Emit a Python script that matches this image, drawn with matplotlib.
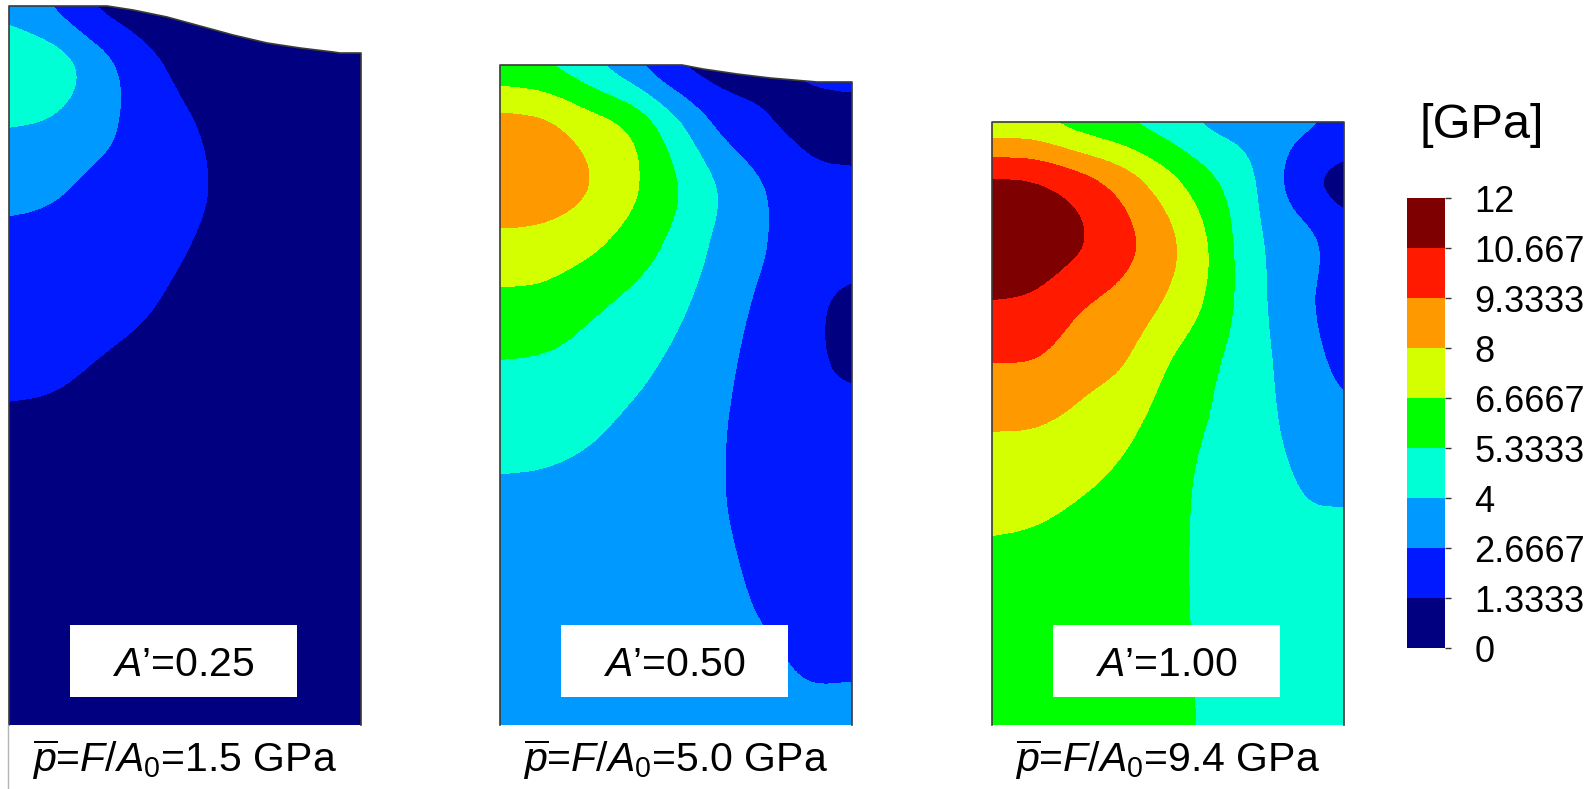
import numpy as np
import matplotlib
matplotlib.use("Agg")
import matplotlib.pyplot as plt
from matplotlib.colors import ListedColormap, BoundaryNorm
from matplotlib.patches import Polygon, Rectangle
from matplotlib.cm import ScalarMappable
from matplotlib.lines import Line2D

plt.rcParams['font.family'] = ['Liberation Sans', 'DejaVu Sans']
plt.rcParams['mathtext.fontset'] = 'custom'
plt.rcParams['mathtext.rm'] = 'Liberation Sans'
plt.rcParams['mathtext.it'] = 'Liberation Sans:italic'
plt.rcParams['mathtext.bf'] = 'Liberation Sans:bold'

# ---------------- data ----------------
LEVELS = np.linspace(0, 12, 10)
LEVEL_LABELS = ["0", "1.3333", "2.6667", "4", "5.3333", "6.6667", "8", "9.3333", "10.667", "12"]
BAND_COLORS = ["#000080", "#0019FF", "#0099FF", "#00FFD4", "#00FF00",
               "#D4FF00", "#FF9900", "#FF1A00", "#7F0000"]

A_LABELS = ["0.25", "0.50", "1.00"]
P_LABELS = ["1.5", "5.0", "9.4"]

# radial sample positions (px across the section, axis of symmetry at 0), step 44
COLS = [0, 44, 88, 132, 176, 220, 264, 308, 352]
ROW_STEP = 60  # depth sample spacing (px)

# panel 1 (A'=0.25): stress [GPa] at depths 0, 60, ..., 720
S1 = [
    [3.6, 2.6, 1.2, 0.6, 0.4, 0.3, 0.2, 0.15, 0.1],
    [5.0, 4.8, 3.4, 1.9, 0.95, 0.6, 0.4, 0.3, 0.2],
    [4.05, 3.85, 3.05, 2.3, 1.5, 1.0, 0.7, 0.5, 0.4],
    [3.0, 2.85, 2.4, 2.2, 1.6, 1.15, 0.85, 0.6, 0.5],
    [2.4, 2.3, 2.0, 1.8, 1.38, 1.05, 0.8, 0.6, 0.5],
    [1.95, 1.9, 1.65, 1.45, 1.1, 0.85, 0.7, 0.55, 0.5],
    [1.55, 1.5, 1.3, 1.1, 0.85, 0.7, 0.6, 0.5, 0.45],
    [1.2, 1.15, 1.0, 0.9, 0.7, 0.6, 0.5, 0.45, 0.4],
    [0.95, 0.9, 0.85, 0.75, 0.6, 0.5, 0.45, 0.4, 0.4],
    [0.8, 0.78, 0.72, 0.65, 0.55, 0.48, 0.42, 0.4, 0.38],
    [0.7, 0.68, 0.64, 0.58, 0.5, 0.45, 0.4, 0.38, 0.36],
    [0.62, 0.6, 0.57, 0.52, 0.47, 0.42, 0.38, 0.36, 0.35],
    [0.55, 0.54, 0.52, 0.48, 0.44, 0.4, 0.36, 0.34, 0.33],
]
SURF1_X = [0, 98, 124, 158, 191, 224, 258, 291, 324, 331, 352]
SURF1_D = [0, 0, 4, 11, 20, 29, 37, 42, 46, 47, 47]

# panel 2 (A'=0.50): depths 0, 60, ..., 660
S2 = [
    [5.7, 5.4, 4.4, 3.0, 1.4, 0.7, 1.0, 1.5, 1.75],
    [8.6, 8.35, 7.4, 6.5, 4.4, 2.4, 1.45, 1.0, 0.9],
    [9.0, 8.8, 8.15, 7.0, 5.5, 3.95, 2.7, 1.7, 1.55],
    [7.6, 7.5, 7.0, 6.1, 5.0, 3.7, 2.75, 1.95, 1.8],
    [6.3, 6.2, 5.6, 5.0, 4.3, 3.3, 2.4, 1.6, 1.05],
    [5.25, 5.15, 4.85, 4.35, 3.75, 3.0, 2.15, 1.5, 1.2],
    [4.5, 4.45, 4.2, 3.8, 3.4, 2.8, 2.05, 1.6, 1.6],
    [3.9, 3.85, 3.7, 3.45, 3.2, 2.75, 2.1, 1.75, 1.7],
    [3.5, 3.45, 3.35, 3.2, 3.05, 2.8, 2.4, 1.95, 1.9],
    [3.3, 3.25, 3.15, 3.05, 2.95, 2.85, 2.6, 2.25, 2.2],
    [3.15, 3.1, 3.05, 2.95, 2.9, 2.85, 2.8, 2.6, 2.6],
    [3.1, 3.05, 3.0, 2.9, 2.85, 2.8, 2.85, 2.8, 2.8],
]
SURF2_X = [0, 182, 203, 237, 270, 317, 352]
SURF2_D = [0, 0, 4, 9, 13, 17, 17]

# panel 3 (A'=1.00): depths 0, 60, ..., 600
S3 = [
    [7.0, 6.9, 6.0, 5.4, 4.6, 3.7, 3.5, 3.0, 2.4],
    [11.0, 10.8, 10.0, 8.8, 7.2, 5.6, 4.05, 1.8, 0.8],
    [11.8, 11.6, 10.9, 9.8, 8.45, 6.55, 4.2, 3.3, 2.0],
    [10.65, 10.45, 9.5, 8.9, 7.9, 6.4, 4.35, 3.1, 1.9],
    [9.35, 9.3, 8.6, 8.1, 6.7, 5.55, 4.45, 3.3, 2.35],
    [8.15, 8.1, 7.7, 7.05, 6.1, 5.25, 4.5, 3.55, 2.95],
    [7.3, 7.2, 6.85, 6.4, 5.85, 4.95, 4.6, 3.95, 3.8],
    [6.6, 6.5, 6.25, 6.0, 5.7, 4.95, 4.65, 4.2, 4.2],
    [6.2, 6.1, 5.9, 5.75, 5.6, 5.05, 4.7, 4.35, 4.3],
    [5.95, 5.9, 5.75, 5.65, 5.55, 5.15, 4.7, 4.45, 4.4],
    [5.8, 5.75, 5.7, 5.65, 5.55, 5.2, 4.75, 4.5, 4.45],
]
SURF3_X = [0, 352]
SURF3_D = [0, 0]

# ---------------- layout (figure pixels) ----------------
FW, FH = 1596, 789
PANEL_LEFT = [9, 500, 992]
PANEL_H = [719, 660, 603]
PANEL_BOTTOM = 725
WIDTH = 352.0

cmap = ListedColormap(BAND_COLORS)
norm = BoundaryNorm(LEVELS, cmap.N)

fig = plt.figure(figsize=(FW / 100, FH / 100), dpi=100)

panels = [(S1, SURF1_X, SURF1_D), (S2, SURF2_X, SURF2_D), (S3, SURF3_X, SURF3_D)]

for i, (vals, sx, sd) in enumerate(panels):
    left = PANEL_LEFT[i]
    H = PANEL_H[i]
    ax = fig.add_axes([left / FW, (FH - PANEL_BOTTOM) / FH, WIDTH / FW, H / FH])

    Z = np.array(vals, dtype=float)
    nrows = Z.shape[0]
    dc = (COLS[1] - COLS[0]) / 2
    dr = ROW_STEP / 2
    extent = ((COLS[0] - dc) / WIDTH, (COLS[-1] + dc) / WIDTH,
              ((nrows - 1) * ROW_STEP + dr) / WIDTH, -dr / WIDTH)
    im = ax.imshow(Z, cmap=cmap, norm=norm, extent=extent, origin='upper',
                   interpolation='mitchell', interpolation_stage='data', aspect='auto')

    ax.set_xlim(0, 1)
    ax.set_ylim(H / WIDTH, 0)
    ax.axis('off')

    verts = [(0, H / WIDTH)] + [(x / WIDTH, d / WIDTH) for x, d in zip(sx, sd)] + [(1, H / WIDTH)]
    poly = Polygon(verts, closed=True, facecolor='none', edgecolor='none')
    ax.add_patch(poly)
    im.set_clip_path(poly)

    ox = [0] + [x / WIDTH for x in sx] + [1]
    oy = [H / WIDTH] + [d / WIDTH for d in sd] + [H / WIDTH]
    ax.plot(ox, oy, color='#3a3a3a', lw=1.2, clip_on=False, zorder=4)

    ax.add_patch(Rectangle((61 / WIDTH, (H - 100) / WIDTH), 227 / WIDTH, 72 / WIDTH,
                           facecolor='white', edgecolor='none', zorder=5))
    ax.text(174.5 / WIDTH, (H - 49) / WIDTH, "$A$\u2019=" + A_LABELS[i],
            fontsize=29.5, ha='center', va='baseline', zorder=6)

    fig.text((left + WIDTH / 2 - 1) / FW, (FH - 772) / FH,
             r"$\overline{p}$=$F$/$A_0$=" + P_LABELS[i] + " GPa",
             fontsize=29.5, ha='center', va='baseline')

fig.add_artist(Line2D([8 / FW, 8 / FW], [0, (FH - PANEL_BOTTOM) / FH], color='#b5b5b5', lw=1))

# colour bar
cax = fig.add_axes([1407 / FW, (FH - 648) / FH, 38 / FW, 450 / FH])
cb = fig.colorbar(ScalarMappable(norm=norm, cmap=cmap), cax=cax, ticks=LEVELS)
cb.set_ticklabels(LEVEL_LABELS)
cb.outline.set_visible(False)
cax.tick_params(length=4, width=1, pad=17, labelsize=26, color='#333333')
fig.text(1482 / FW, (FH - 125) / FH, "[GPa]", fontsize=35, ha='center', va='center')

fig.savefig("out.png", dpi=100)
